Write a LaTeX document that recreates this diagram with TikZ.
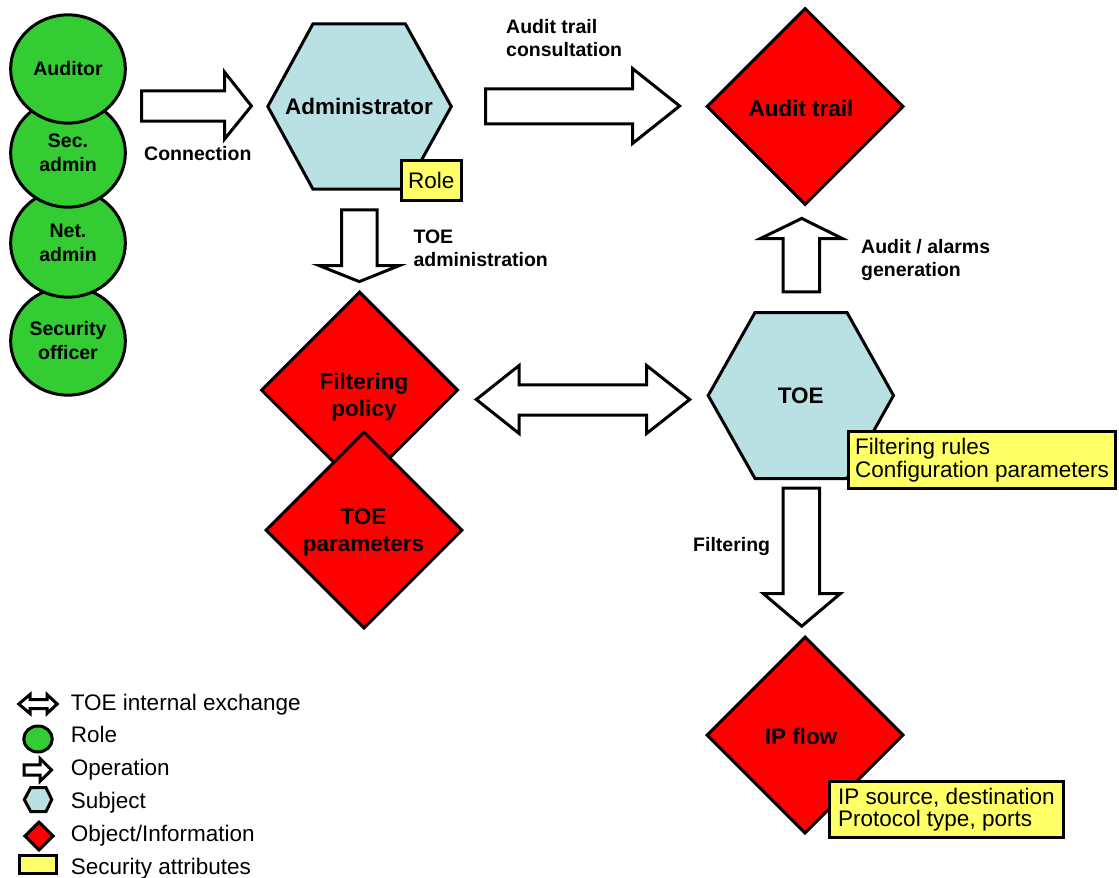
\documentclass[tikz,border=0pt]{standalone}
\usepackage{fontspec}
\setmainfont{Liberation Sans}
\usetikzlibrary{shapes.geometric}
\definecolor{rolegreen}{RGB}{51,204,51}
\definecolor{subjblue}{RGB}{185,224,227}
\definecolor{objred}{RGB}{255,0,0}
\definecolor{attryellow}{RGB}{255,255,102}
\tikzset{
  outl/.style={draw=black, line width=3pt, line join=miter},
  rolenode/.style={outl, ellipse, fill=rolegreen, minimum width=114.7pt, minimum height=108.3pt, inner sep=0pt, align=center, font=\bfseries\fontsize{19.5}{24}\selectfont},
  objnode/.style={outl, diamond, fill=objred, minimum width=197pt, minimum height=197pt, inner sep=0pt, align=center, font=\bfseries\fontsize{22.5}{26}\selectfont},
  objtext/.style={inner sep=0pt, align=center, font=\bfseries\fontsize{22.5}{27}\selectfont},
  subjshape/.style={outl, fill=subjblue},
  subjtext/.style={inner sep=0pt, align=center, font=\bfseries\fontsize{22.5}{26}\selectfont},
  attrnode/.style={outl, rectangle, fill=attryellow, inner sep=0pt, align=left, font=\fontsize{22.5}{22.5}\selectfont},
  opshape/.style={outl, fill=white},
  oplabel/.style={inner sep=0pt, align=left, anchor=west, font=\bfseries\fontsize{19.5}{23}\selectfont},
  legtext/.style={inner sep=0pt, anchor=base west, font=\fontsize{22.5}{26}\selectfont},
}
\begin{document}
\begin{tikzpicture}[x=1pt, y=-1pt]
\useasboundingbox (0,0) rectangle (1119,878);

% ---- roles (drawn bottom-up so upper circles overlap lower ones)
\node[rolenode] (secoff) at (68,341) {Security\\officer};
\node[rolenode] (netadm) at (68,243) {Net.\\admin};
\node[rolenode] (secadm) at (68,153) {Sec.\\admin};
\node[rolenode] (auditor) at (68,69) {Auditor};

% ---- Connection operation
\draw[opshape] (141.5,90.8) -- (224.5,90.8) -- (224.5,72) -- (251.4,106) -- (224.5,139.2) -- (224.5,121.2) -- (141.5,121.2) -- cycle;
\node[oplabel] (lconn) at (144,154) {Connection};

% ---- Administrator subject
\draw[subjshape] (267.8,106.5) -- (313,23.8) -- (405.3,23.8) -- (451.3,106.5) -- (405.3,189.2) -- (313,189.2) -- cycle;
\node[subjtext] (admin) at (359,106.7) {Administrator};
\node[attrnode, align=center, minimum width=60pt, minimum height=39.5pt] (rolebox) at (431.3,180.5) {Role};

% ---- TOE administration operation
\draw[opshape] (341.5,209.8) -- (377.2,209.8) -- (377.2,265.5) -- (399.5,265.5) -- (359.3,281.6) -- (319,265.5) -- (341.5,265.5) -- cycle;
\node[oplabel] (ltoeadm) at (413.3,248) {TOE\\administration};

% ---- Audit trail consultation operation
\draw[opshape] (485.5,88.8) -- (632.5,88.8) -- (632.5,68.5) -- (679.6,106) -- (632.5,143.5) -- (632.5,123.8) -- (485.5,123.8) -- cycle;
\node[oplabel] (lcons) at (506,38.5) {Audit trail\\consultation};

% ---- Audit trail object
\node[objnode] (audit) at (805,106.5) {};
\node[objtext] (audittxt) at (801,108.5) {Audit trail};

% ---- Audit / alarms generation operation
\draw[opshape] (783.2,291.8) -- (819.5,291.8) -- (819.5,238.5) -- (842.3,238.5) -- (801.7,218.4) -- (760.5,238.5) -- (783.2,238.5) -- cycle;
\node[oplabel] (lalarm) at (861,260) {Audit / alarms\\generation};

% ---- Filtering policy / TOE parameters objects
\node[objnode] (fpol) at (359.5,390) {};
\node[objtext] (fpoltxt) at (364,397) {Filtering\\policy};
\node[objnode] (toepar) at (364,530) {};
\node[objtext] (toepartxt) at (363.5,532) {TOE\\parameters};

% ---- TOE internal exchange
\draw[opshape] (476.3,399.5) -- (519,365.6) -- (519,384.8) -- (646.7,384.8) -- (646.7,365.6) -- (689.7,399.5) -- (646.7,433.4) -- (646.7,415.2) -- (519,415.2) -- (519,433.4) -- cycle;

% ---- TOE subject
\draw[subjshape] (708.2,395.5) -- (755,312.5) -- (847,312.5) -- (893.5,395.5) -- (847,478.5) -- (755,478.5) -- cycle;
\node[subjtext] (toe) at (800.7,395.7) {TOE};
\node[attrnode, minimum width=267pt, minimum height=57pt] (toeattr) at (982,460) {Filtering rules\\Configuration parameters};

% ---- Filtering operation
\draw[opshape] (783.2,488.2) -- (819.5,488.2) -- (819.5,593.5) -- (840.5,593.5) -- (801.7,626.2) -- (763.2,593.5) -- (783.2,593.5) -- cycle;
\node[oplabel] (lfilt) at (693,546) {Filtering};

% ---- IP flow object
\node[objnode] (ipflow) at (805,735) {};
\node[objtext] (ipflowtxt) at (801,736.5) {IP flow};
\node[attrnode, minimum width=234pt, minimum height=56pt] (ipattr) at (946.4,809.5) {IP source, destination\\Protocol type, ports};

% ---- Legend
\draw[opshape] (18.8,704) -- (30,694.5) -- (30,699.5) -- (47,699.5) -- (47,694.5) -- (57.2,704) -- (47,713.5) -- (47,708.5) -- (30,708.5) -- (30,713.5) -- cycle;
\node[legtext] (lg1) at (70.7,710) {TOE internal exchange};
\node[rolenode, minimum width=28.5pt, minimum height=26pt] (lgrole) at (38,739) {};
\node[legtext] (lg2) at (70.7,742.8) {Role};
\draw[opshape] (24.2,764.8) -- (40,764.8) -- (40,758.5) -- (51.6,770) -- (40,781.3) -- (40,775.2) -- (24.2,775.2) -- cycle;
\node[legtext] (lg3) at (70.7,775.6) {Operation};
\draw[subjshape] (24.3,799.6) -- (30.8,787.6) -- (46,787.6) -- (51.8,799.6) -- (46,811.6) -- (30.8,811.6) -- cycle;
\node[legtext] (lg4) at (70.7,808.4) {Subject};
\node[objnode, minimum width=29.5pt, minimum height=29pt] (lgobj) at (39,836) {};
\node[legtext] (lg5) at (70.7,841.2) {Object/Information};
\node[attrnode, minimum width=37pt, minimum height=18pt] (lgattr) at (38.3,864.5) {};
\node[legtext] (lg6) at (70.7,874) {Security attributes};
\end{tikzpicture}
\end{document}
